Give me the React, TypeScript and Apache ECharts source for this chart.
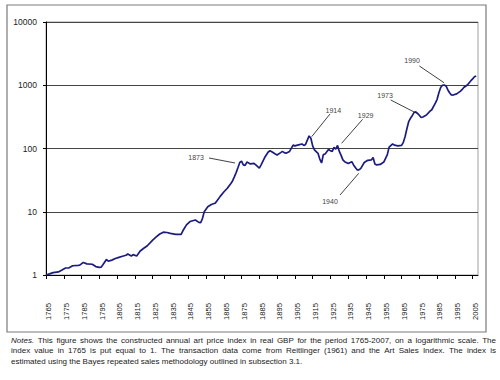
import React, { useEffect, useRef } from 'react';
import * as echarts from 'echarts';

const years = [
  1765, 1767, 1769, 1772, 1774, 1776, 1778, 1780, 1783, 1784, 1786, 1788, 1791, 1793, 1795, 1796, 1797, 1799, 1800,
  1802, 1804, 1806, 1808, 1810, 1811, 1813, 1814, 1816, 1818, 1820, 1822, 1825, 1827, 1829, 1831, 1833, 1835, 1838,
  1841, 1842, 1844, 1846, 1849, 1851, 1852, 1853, 1854, 1856, 1858, 1860, 1861, 1863, 1865, 1867, 1869, 1870, 1871,
  1872, 1873, 1874, 1875, 1876, 1877, 1878, 1879, 1880, 1882, 1883, 1885, 1886, 1888, 1890, 1891, 1892, 1894, 1895,
  1897, 1898, 1899, 1900, 1902, 1904, 1905, 1907, 1909, 1910, 1911, 1913, 1914, 1915, 1916, 1918, 1919, 1920, 1921,
  1922, 1924, 1925, 1926, 1927, 1928, 1929, 1930, 1931, 1932, 1933, 1935, 1937, 1938, 1939, 1940, 1941, 1942, 1944,
  1946, 1948, 1949, 1950, 1951, 1953, 1955, 1957, 1958, 1960, 1961, 1963, 1965, 1966, 1967, 1968, 1969, 1970, 1971,
  1972, 1973, 1974, 1975, 1976, 1977, 1979, 1981, 1982, 1984, 1985, 1986, 1987, 1988, 1989, 1990, 1991, 1992, 1993,
  1994, 1996, 1998, 1999, 2000, 2002, 2004, 2005, 2006, 2007,
];

const indexValues = [
  1.0, 1.04, 1.09, 1.12, 1.2, 1.29, 1.3, 1.4, 1.42, 1.43, 1.58, 1.5, 1.48, 1.36, 1.32, 1.33, 1.45, 1.76, 1.65,
  1.72, 1.82, 1.9, 1.98, 2.05, 2.15, 2.0, 2.1, 2.0, 2.4, 2.65, 2.9, 3.55, 4.0, 4.45, 4.75, 4.7, 4.55, 4.4,
  4.4, 5.0, 6.2, 7.0, 7.4, 6.8, 6.7, 7.8, 10.0, 12.0, 13.0, 13.6, 14.6, 17.5, 20.5, 23.5, 28, 31, 36,
  42, 50, 60, 63, 55, 54, 61, 59, 57, 58, 55, 49, 55, 72, 88, 92, 89, 82, 79,
  86, 90, 86, 84, 90, 113, 110, 114, 118, 112, 116, 158, 145, 110, 95, 84, 68, 59, 80,
  82, 97, 92, 90, 104, 98, 112, 90, 78, 66, 62, 58, 62, 55, 50, 46, 46, 48, 60,
  65, 66, 72, 57, 55, 56, 61, 80, 105, 118, 113, 110, 112, 125, 155, 205, 265, 300, 330,
  370, 380, 360, 335, 310, 315, 338, 390, 410, 520, 600, 760, 920, 1000, 1010, 975, 850, 760, 705,
  700, 730, 800, 850, 920, 1010, 1180, 1260, 1360, 1400,
];

const xTickYears = [
  1765, 1775, 1785, 1795, 1805, 1815, 1825, 1835, 1845, 1855, 1865, 1875, 1885, 1895, 1905, 1915, 1925, 1935,
  1945, 1955, 1965, 1975, 1985, 1995, 2005,
];
const yTickValues = [1, 10, 100, 1000, 10000];

const annotationTexts = ['1873', '1914', '1929', '1940', '1973', '1990'];
const annotationLabelAt = [
  [1849.4, 71.6], [1926.6, 406], [1944.8, 330], [1924.75, 14.4], [1955.7, 701], [1970.9, 2445],
];
const arrowFrom = [
  [1856.7, 70.8], [1924.75, 351], [1943.1, 289.5], [1930.4, 18.4], [1958.9, 585], [1975, 2016],
];
const arrowTo = [
  [1871.3, 59.0], [1914.45, 153.7], [1931.3, 120.9], [1940.9, 40.5], [1973.5, 360], [1988.9, 1097],
];

const captionLines = [
  'Notes. This figure shows the constructed annual art price index in real GBP for the period 1765-2007, on a logarithmic scale. The',
  'index value in 1765 is put equal to 1. The transaction data come from Reitlinger (1961) and the Art Sales Index. The index is',
  'estimated using the Bayes repeated sales methodology outlined in subsection 3.1.',
];

const FONT = '"Liberation Sans", Arial, sans-serif';
const CAP_SIZE = 8.0;

function buildCaption(): any[] {
  const canvas = document.createElement('canvas');
  const ctx = canvas.getContext('2d') as CanvasRenderingContext2D;
  const measure = (w: string, italic: boolean) => {
    ctx.font = `${italic ? 'italic ' : ''}${CAP_SIZE}px "Liberation Sans"`;
    return ctx.measureText(w).width;
  };
  const left = 11;
  const right = 496;
  const ys = [340, 350.5, 361];
  const els: any[] = [];
  captionLines.forEach((line, li) => {
    const words = line.split(' ');
    const widths = words.map((w, wi) => measure(w, li === 0 && wi === 0));
    const total = widths.reduce((a, b) => a + b, 0);
    const justify = li < captionLines.length - 1;
    const gap = justify ? (right - left - total) / (words.length - 1) : measure(' ', false);
    let x = left;
    words.forEach((w, wi) => {
      els.push({
        type: 'text',
        x,
        y: ys[li],
        silent: true,
        style: {
          text: w,
          fill: '#1a1a1a',
          fontSize: CAP_SIZE,
          fontFamily: FONT,
          fontStyle: li === 0 && wi === 0 ? 'italic' : 'normal',
          verticalAlign: 'middle',
          align: 'left',
        },
      });
      x += widths[wi] + gap;
    });
  });
  return els;
}

export default function App() {
  const ref = useRef<HTMLDivElement>(null);
  useEffect(() => {
    if (!ref.current) return;
    const chart = echarts.init(ref.current, undefined, { renderer: 'svg' });
    const option: any = {
      animation: false,
      backgroundColor: '#fff',
      grid: {
        left: 46,
        top: 22,
        width: 432,
        height: 253,
        show: true,
        borderColor: '#a0a0a0',
        borderWidth: 1,
        backgroundColor: 'transparent',
        containLabel: false,
        outerBoundsMode: 'none',
      },
      xAxis: {
        type: 'value',
        min: 1765,
        max: 2008,
        axisLine: { show: true, lineStyle: { color: '#000', width: 1 } },
        axisTick: { show: true, length: 4, customValues: xTickYears, lineStyle: { color: '#000' } },
        axisLabel: {
          customValues: xTickYears.map((y) => y + 1.5),
          formatter: (v: number) => String(Math.round(v - 1.5)),
          rotate: 90,
          margin: 28,
          fontSize: 7.6,
          color: '#222',
          fontFamily: FONT,
        },
        splitLine: { show: false },
      },
      yAxis: {
        type: 'log',
        logBase: 10,
        min: yTickValues[0],
        max: yTickValues[yTickValues.length - 1],
        axisLine: { show: true, lineStyle: { color: '#000', width: 1 } },
        axisTick: { show: true, length: 3, lineStyle: { color: '#000' } },
        axisLabel: {
          fontSize: 8.5,
          color: '#222',
          margin: 9,
          fontFamily: FONT,
          formatter: (v: number) => String(Math.round(v)),
        },
        splitLine: { show: true, lineStyle: { color: '#444', width: 1 } },
        minorTick: { show: false },
        minorSplitLine: { show: false },
      },
      graphic: [
        {
          type: 'rect',
          silent: true,
          shape: { x: 7, y: 5, width: 479, height: 327 },
          style: { fill: 'none', stroke: '#7a7a7a', lineWidth: 1.2 },
        },
        ...buildCaption(),
      ],
      series: [
        {
          type: 'line',
          data: years.map((y, i) => [y, indexValues[i]]),
          showSymbol: false,
          symbol: 'none',
          lineStyle: { color: '#1c1c80', width: 1.7 },
          silent: true,
          markLine: {
            silent: true,
            symbol: ['none', 'arrow'],
            symbolSize: [0, 7],
            lineStyle: { color: '#111', width: 0.8, type: 'solid' },
            label: { show: false },
            data: arrowFrom.map((f, i) => [{ coord: f }, { coord: arrowTo[i] }]),
          },
          markPoint: {
            silent: true,
            symbol: 'circle',
            symbolSize: 0,
            itemStyle: { color: 'transparent' },
            label: {
              show: true,
              position: 'inside',
              formatter: '{b}',
              color: '#444',
              fontSize: 7,
              fontFamily: FONT,
            },
            data: annotationTexts.map((t, i) => ({ name: t, coord: annotationLabelAt[i] })),
          },
        },
      ],
    };
    chart.setOption(option);
    return () => chart.dispose();
  }, []);
  return <div ref={ref} style={{ width: 500, height: 380, position: 'absolute', left: 0, top: 0 }} />;
}
